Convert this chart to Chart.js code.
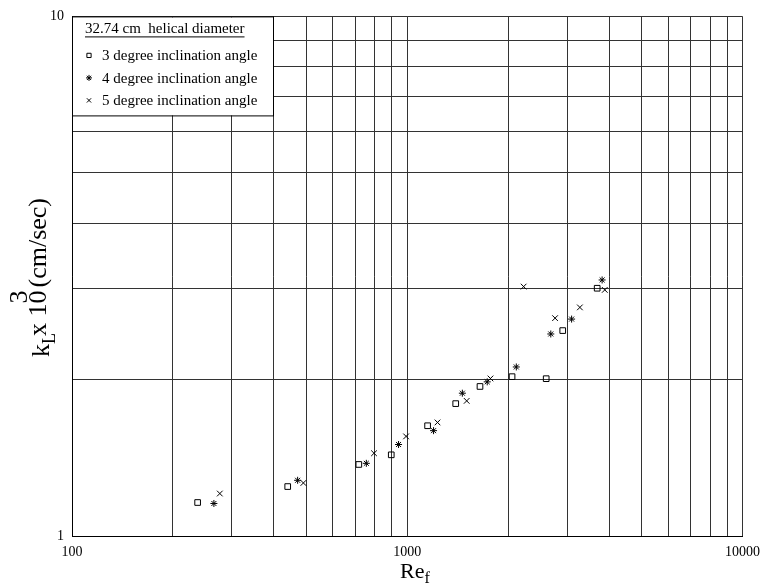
<!DOCTYPE html>
<html>
<head>
<meta charset="utf-8">
<script src="https://cdn.jsdelivr.net/npm/chart.js@4/dist/chart.umd.min.js"></script>
<style>
  html, body { margin: 0; padding: 0; background: #fff; }
</style>
</head>
<body>
<canvas id="chart" width="768" height="587"></canvas>
<script>
// data
const legendTitle = '32.74 cm  helical diameter';
const seriesLabels = ['3 degree inclination angle', '4 degree inclination angle', '5 degree inclination angle'];
const pointStyles = ['rect', 'star', 'crossRot'];

const re3deg = [237, 440, 717, 896, 1150, 1395, 1648, 2054, 2597, 2909, 3686];
const kl3deg = [1.16, 1.245, 1.373, 1.433, 1.63, 1.798, 1.94, 2.026, 2.008, 2.485, 2.998];
const re4deg = [265, 471, 755, 942, 1198, 1460, 1732, 2115, 2680, 3092, 3813];
const kl4deg = [1.155, 1.28, 1.38, 1.50, 1.595, 1.883, 1.98, 2.115, 2.448, 2.615, 3.11];
const re5deg = [276, 490, 796, 992, 1231, 1504, 1771, 2224, 2760, 3273, 3883];
const kl5deg = [1.207, 1.265, 1.443, 1.555, 1.654, 1.82, 2.01, 3.02, 2.626, 2.754, 2.976];

// grid lines and labelled ticks
const xGrid = [100, 200, 300, 400, 500, 600, 700, 800, 900, 1000,
  2000, 3000, 4000, 5000, 6000, 7000, 8000, 9000, 10000];
const yGrid = [1, 2, 3, 4, 5, 6, 7, 8, 9, 10];
const xTickLabels = [100, 1000, 10000];
const yTickLabels = [1, 10];

Chart.defaults.font.family = '"Liberation Serif", "DejaVu Serif", serif';
Chart.defaults.font.size = 14;
Chart.defaults.color = '#000';

function toPoints(xs, ys) {
  return xs.map((x, i) => ({ x, y: ys[i] }));
}

const datasets = [
  [re3deg, kl3deg],
  [re4deg, kl4deg],
  [re5deg, kl5deg]
].map(([xs, ys], i) => ({
  label: seriesLabels[i],
  data: toPoints(xs, ys),
  pointStyle: pointStyles[i],
  pointRadius: i === 1 ? 3.5 : 4,
  pointBorderWidth: 1,
  borderColor: '#000',
  backgroundColor: 'rgba(0,0,0,0)',
  showLine: false
}));

// boxed legend in the upper left corner, drawn over the grid
const boxLegend = {
  id: 'boxLegend',
  afterDatasetsDraw(chart) {
    const { ctx, chartArea: a } = chart;
    const w = 201, h = 99;
    ctx.save();
    ctx.fillStyle = '#fff';
    ctx.fillRect(a.left + 1, a.top + 1, w - 1, h - 1);
    ctx.strokeStyle = '#000';
    ctx.lineWidth = 1;
    ctx.strokeRect(a.left + 0.5, a.top + 0.5, w, h);
    ctx.fillStyle = '#000';
    ctx.font = '15px "Liberation Serif"';
    ctx.textBaseline = 'alphabetic';
    ctx.fillText(legendTitle, a.left + 13, a.top + 17);
    const tw = ctx.measureText(legendTitle).width;
    ctx.fillRect(a.left + 13, a.top + 20, tw, 1);
    chart.data.datasets.forEach((ds, i) => {
      const cy = a.top + 39 + i * 22.5;
      ctx.fillStyle = 'rgba(0,0,0,0)';
      Chart.helpers.drawPoint(ctx, {
        pointStyle: ds.pointStyle, radius: 3, borderWidth: 1, rotation: 0
      }, a.left + 17, cy);
      ctx.fillStyle = '#000';
      ctx.fillText(ds.label, a.left + 30, cy + 5);
    });
    ctx.restore();
  }
};

// axis titles with sub/superscripts
const axisTitles = {
  id: 'axisTitles',
  afterDraw(chart) {
    const { ctx } = chart;
    ctx.save();
    ctx.fillStyle = '#000';
    ctx.textBaseline = 'alphabetic';
    // x: Re_f
    ctx.font = '22px "Liberation Serif"';
    ctx.fillText('Re', 400, 578);
    const w = ctx.measureText('Re').width;
    ctx.font = '16px "Liberation Serif"';
    ctx.fillText('f', 400 + w, 583);

    // y: k_L x 10^3 (cm/sec)
    ctx.translate(49, 357);
    ctx.rotate(-Math.PI / 2);
    let x = 0;
    ctx.font = '26px "Liberation Serif"';
    ctx.fillText('k', x, 0);
    x += ctx.measureText('k').width;
    ctx.font = '18px "Liberation Serif"';
    ctx.fillText('L', x, 6);
    x += ctx.measureText('L').width - 3;
    ctx.font = '26px "Liberation Serif"';
    ctx.fillText('x 10', x, -3);
    x += ctx.measureText('x 10').width;
    ctx.fillText('3', x - 13, -22);
    x += 3;
    ctx.fillText('(cm/sec)', x, -3);
    ctx.restore();
  }
};

new Chart(document.getElementById('chart'), {
  type: 'scatter',
  data: { datasets },
  options: {
    responsive: false,
    animation: false,
    layout: { padding: { left: 0, right: 21, top: 13, bottom: 0 } },
    plugins: {
      legend: { display: false },
      tooltip: { enabled: false }
    },
    scales: {
      x: {
        type: 'logarithmic',
        min: 100,
        max: 10000,
        afterFit: s => { s.height = 51; },
        afterBuildTicks: s => { s.ticks = xGrid.map(value => ({ value })); },
        border: { color: '#000', width: 1 },
        grid: { color: '#333', lineWidth: 1, drawTicks: false },
        ticks: {
          autoSkip: false,
          maxRotation: 0,
          padding: 8,
          font: { size: 14 },
          callback: v => xTickLabels.includes(v) ? String(v) : ''
        }
      },
      y: {
        type: 'logarithmic',
        min: 1,
        max: 10,
        afterFit: s => { s.width = 72; },
        afterBuildTicks: s => { s.ticks = yGrid.map(value => ({ value })); },
        border: { color: '#000', width: 1 },
        grid: { color: '#333', lineWidth: 1, drawTicks: false },
        ticks: {
          autoSkip: false,
          padding: 8,
          font: { size: 14 },
          callback: v => yTickLabels.includes(v) ? String(v) : ''
        }
      }
    }
  },
  plugins: [boxLegend, axisTitles]
});
</script>
</body>
</html>
